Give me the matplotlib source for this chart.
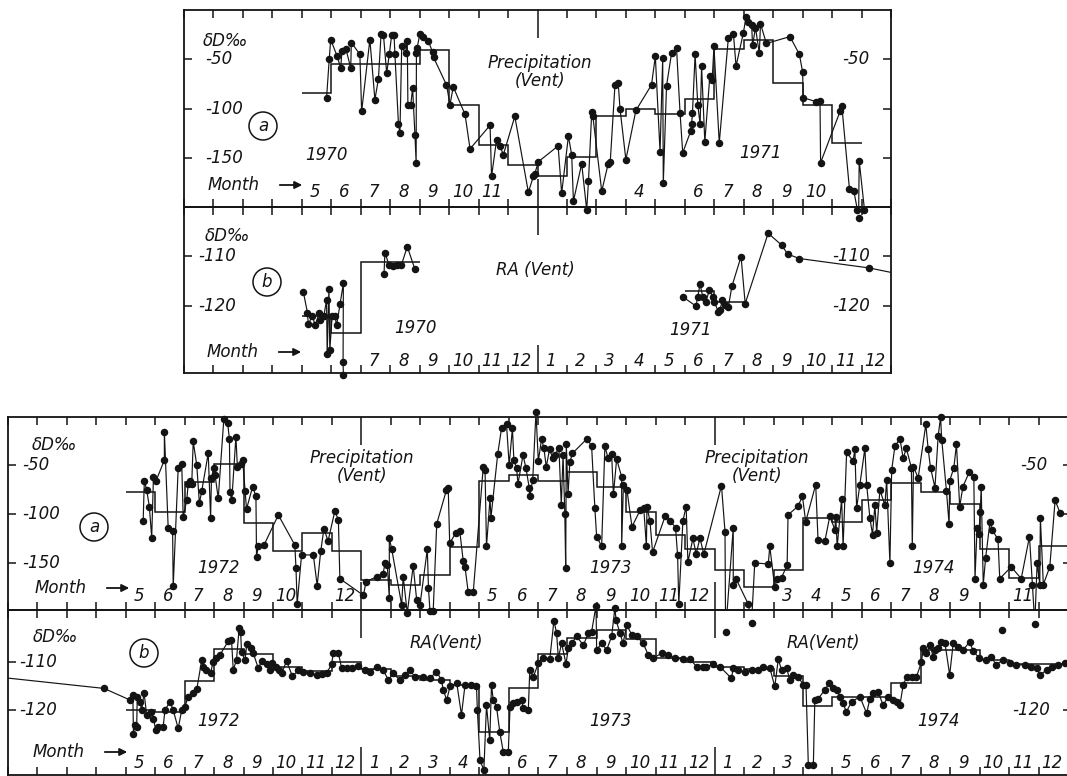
import matplotlib
matplotlib.use("Agg")
import matplotlib.pyplot as plt
import numpy as np

W, H = 1067, 776
plt.rcParams['font.family'] = ['DejaVu Sans']
plt.rcParams['font.style'] = 'italic'

# time axis: months since Jan of first year (top: 1970, bottom: 1972)

# --- precipitation at Vent 1970-71, single samples (month, dD permil)
prec_7071 = [
    (4.84, -89), (4.93, -50), (4.98, -30), (5.20, -47), (5.32, -59), (5.36, -42),
    (5.50, -40), (5.66, -59), (5.68, -33), (5.97, -45), (6.03, -103), (6.31, -30),
    (6.48, -91), (6.60, -70), (6.69, -24), (6.77, -25), (6.88, -64), (6.97, -45),
    (7.05, -25), (7.13, -25), (7.16, -45), (7.28, -116), (7.33, -125), (7.39, -37),
    (7.52, -44), (7.58, -31), (7.60, -96), (7.70, -96), (7.76, -79), (7.84, -127),
    (7.88, -155), (7.89, -44), (7.91, -39), (8.01, -24), (8.10, -27), (8.29, -31),
    (8.44, -43), (8.47, -48), (8.91, -76), (9.03, -96), (9.14, -78), (9.54, -106),
    (9.71, -141), (10.39, -117), (10.44, -169), (10.61, -132), (10.73, -138),
    (10.84, -147), (11.23, -108), (11.69, -185), (11.86, -169), (11.91, -166),
    (12.03, -154), (12.70, -138), (12.82, -186), (13.05, -128), (13.16, -147),
    (13.22, -194), (13.50, -156), (13.67, -203), (13.73, -174), (13.84, -104),
    (13.88, -108), (14.18, -184), (14.40, -156), (14.47, -154), (14.63, -76),
    (14.74, -74), (14.80, -100), (15.00, -152), (15.34, -102), (15.87, -76),
    (16.00, -47), (16.16, -144), (16.25, -49), (16.27, -176), (16.38, -77),
    (16.55, -44), (16.72, -39), (16.84, -105), (16.93, -145), (17.20, -123),
    (17.23, -116), (17.26, -105), (17.35, -45), (17.44, -96), (17.52, -116),
    (17.57, -57), (17.68, -134), (17.85, -67), (17.93, -71), (17.99, -37),
    (18.17, -135), (18.48, -28), (18.65, -24), (18.74, -57), (18.99, -23),
    (19.08, -7), (19.15, -12), (19.27, -15), (19.30, -36), (19.40, -18),
    (19.53, -44), (19.57, -14), (19.77, -34), (20.57, -27), (20.89, -45),
    (21.00, -63), (21.02, -89), (21.45, -93), (21.59, -92), (21.61, -155),
    (22.27, -103), (22.33, -97), (22.59, -182), (22.74, -184), (22.86, -203),
    (22.90, -211), (22.92, -153), (23.10, -203),
]
prec_7071_mean = [-84, -55, -55, -55, -41, -96, -137.5, -157, -169, -149, -108,
                  -100, -106, -90, -40, -30, -74, -96, -135]   # May 70 .. Nov 71

# --- river water (RA) at Vent 1970-71
ra_7071 = [
    (4.05, -117.2), (4.19, -121.4), (4.22, -123.8), (4.36, -122), (4.45, -124),
    (4.59, -121.5), (4.62, -123), (4.75, -122), (4.84, -118.9), (4.86, -129.7),
    (4.92, -116.7), (4.95, -129), (5.03, -122), (5.12, -122), (5.18, -124),
    (5.30, -119.6), (5.41, -115.5), (5.40, -131.4), (5.41, -134),
    (np.nan, np.nan),
    (6.79, -113.6), (6.82, -109.3), (6.96, -111.8), (7.10, -112), (7.22, -111.8),
    (7.38, -111.8), (7.58, -108.1), (7.84, -112.7),
    (np.nan, np.nan),
    (16.95, -118.3), (17.38, -120.1), (17.44, -118.2), (17.52, -115.6),
    (17.61, -118.3), (17.72, -119.2), (17.83, -116.9), (17.95, -118.2),
    (18.00, -119.2), (18.14, -121.3), (18.19, -120.9), (18.28, -118.9),
    (18.36, -119.9), (18.48, -120.2), (18.60, -116.1), (18.91, -110.1),
    (19.05, -119.6), (19.83, -105.4), (20.29, -107.8), (20.49, -109.6),
    (20.89, -110.5), (23.26, -112.4),
]
ra_7071_tail = [(23.26, -112.4), (24.0, -113.3)]
ra_70_mean = [-122, -125.6, -111.3, -111.3]     # May .. Aug 1970
ra_71_mean = [-117, -119.2]                      # Jun .. Jul 1971

# --- precipitation at Vent 1972-74
prec_7274 = [
    (4.59, -107), (4.63, -66), (4.71, -75.5), (4.80, -92.5), (4.88, -124),
    (4.94, -62), (5.03, -66), (5.31, -45), (5.31, -16), (5.44, -114), (5.59, -117),
    (5.61, -174), (5.78, -53), (5.90, -49), (5.95, -103), (6.07, -86), (6.12, -69),
    (6.18, -66), (6.24, -69), (6.29, -26), (6.41, -50), (6.50, -89), (6.58, -76.5),
    (6.80, -38), (6.88, -104), (6.91, -63), (6.99, -53), (7.03, -60), (7.14, -84),
    (7.33, -3), (7.46, -7.5), (7.52, -23.5), (7.54, -78), (7.60, -86), (7.74, -21),
    (7.79, -52), (7.90, -49), (7.97, -45), (8.05, -76.5), (8.10, -95), (8.31, -72),
    (8.42, -82), (8.44, -143.5), (8.50, -133), (8.69, -132), (9.18, -101),
    (9.74, -131.6), (9.78, -155), (9.82, -192), (9.97, -141.5), (10.37, -142),
    (10.50, -173), (10.62, -138), (10.73, -115), (10.87, -127.5), (11.10, -97),
    (11.22, -106), (11.27, -166), (12.07, -183), (12.16, -169), (12.52, -164),
    (12.74, -161), (12.80, -150.5), (12.88, -152), (12.95, -186), (12.95, -125),
    (13.03, -135.6), (13.37, -193), (13.42, -164), (13.56, -201), (13.76, -153),
    (13.88, -188), (13.99, -193), (14.24, -136), (14.28, -176), (14.33, -199),
    (14.44, -199), (14.56, -110), (14.89, -75.5), (14.95, -73), (15.00, -130),
    (15.21, -119), (15.34, -117), (15.46, -148), (15.52, -154), (15.63, -180),
    (15.80, -180), (16.14, -52), (16.20, -55), (16.25, -133), (16.37, -84),
    (16.40, -104), (16.63, -39), (16.76, -12.6), (16.93, -8.5), (17.02, -50),
    (17.13, -12.6), (17.18, -45), (17.27, -53), (17.32, -69), (17.49, -40),
    (17.59, -53), (17.70, -73), (17.72, -82), (17.82, -65), (17.93, 4),
    (18.01, -46), (18.12, -23.5), (18.20, -33), (18.28, -52), (18.39, -34),
    (18.50, -43), (18.56, -40), (18.71, -33), (18.79, -91), (18.85, -40),
    (18.91, -100), (18.94, -155), (18.96, -29), (19.02, -80), (19.08, -47),
    (19.17, -38), (19.67, -23), (19.82, -31), (19.93, -94), (19.99, -123),
    (20.16, -133), (20.27, -31), (20.38, -43), (20.50, -39), (20.56, -80),
    (20.67, -44), (20.84, -62), (20.84, -133), (20.90, -70), (21.02, -75.5),
    (21.19, -113), (21.47, -96), (21.59, -94), (21.68, -133), (21.70, -92.5),
    (21.80, -107), (21.89, -139), (22.32, -102), (22.49, -107), (22.67, -114),
    (22.74, -142), (22.78, -192), (22.92, -107), (23.03, -92.5), (23.09, -149),
    (23.26, -125), (23.37, -140.5), (23.50, -124.6), (23.63, -141),
    (24.23, -71), (24.35, -118), (24.37, -220), (24.63, -114), (24.63, -172),
    (24.72, -166), (25.14, -192), (25.25, -211), (25.36, -150), (25.82, -151),
    (25.87, -133), (26.04, -175), (26.12, -166), (26.27, -165), (26.46, -152),
    (26.49, -101), (26.83, -92), (26.98, -82), (27.09, -108), (27.43, -70),
    (27.51, -127), (27.74, -128), (27.91, -102), (28.08, -116), (28.11, -103),
    (28.16, -133), (28.31, -85), (28.36, -133), (28.48, -37), (28.70, -46),
    (28.76, -34), (28.82, -94), (28.93, -70), (29.10, -33), (29.16, -70),
    (29.27, -104), (29.36, -121), (29.44, -91), (29.50, -119), (29.61, -75.5),
    (29.78, -91), (29.84, -65), (29.95, -150.5), (30.01, -55), (30.12, -31),
    (30.29, -23), (30.40, -43), (30.51, -33), (30.68, -53), (30.71, -133),
    (30.75, -52), (30.91, -63), (31.17, -8.5), (31.25, -34), (31.33, -53),
    (31.48, -73), (31.59, -20), (31.67, -1.5), (31.71, -24), (31.87, -76.5),
    (31.96, -110.5), (31.98, -66), (32.12, -53), (32.21, -29), (32.32, -92.5),
    (32.43, -72), (32.65, -57), (32.80, -62), (32.84, -166), (32.91, -114),
    (32.97, -120), (33.02, -98), (33.05, -72), (33.12, -172), (33.20, -145),
    (33.35, -108), (33.42, -116), (33.62, -126), (33.68, -166), (34.07, -154),
    (34.41, -166), (34.69, -123), (34.79, -172), (34.87, -212), (34.95, -150),
    (35.04, -172), (35.06, -104), (35.16, -172), (35.38, -154), (35.56, -86),
    (35.73, -99),
]
prec_7274_mean = [-77.2, -97.6, -67.7, -49.3, -109.5, -137.8, -119.7, -137.8,
                  -167.3, -172.4, -162, -133.3, -66.3, -60.2, -66.3, -56.8,
                  -72.1, -97.6, -121.4, -135.7,
                  -157, -174.2, -157, -104.4, -107.8, -85.7, -68.7, -77.9,
                  -90.1, -135.7, -165.6, -132.3]              # May 72 .. Dec 74

# --- river water (RA) at Vent 1972-74
ra_7274 = [
    (-1.0, -112.7), (3.26, -115.5), (4.14, -117.9), (4.24, -116.9), (4.26, -124.9),
    (4.31, -123.1), (4.37, -123.5), (4.39, -117.2), (4.48, -118.3), (4.54, -120),
    (4.62, -116.4), (4.71, -121), (4.85, -120.4), (4.94, -121.8), (5.02, -124.2),
    (5.10, -123.5), (5.27, -123.5), (5.33, -120), (5.50, -118.3), (5.61, -120),
    (5.78, -123.8), (5.90, -120), (6.01, -119.3), (6.12, -117.2), (6.29, -116.5),
    (6.41, -115.7), (6.58, -109.6), (6.63, -111), (6.74, -111.7), (6.88, -112.2),
    (6.97, -110), (7.06, -109.2), (7.20, -108.5), (7.48, -105.7), (7.59, -105.4),
    (7.65, -111.7), (7.76, -109.5), (7.85, -103), (7.90, -103.7), (7.93, -107.9),
    (8.05, -109.6), (8.11, -106.2), (8.24, -107.2), (8.33, -108.2), (8.50, -111.3),
    (8.61, -109.9), (8.78, -110.4), (8.90, -111.7), (8.95, -110.3), (9.10, -111),
    (9.21, -111.7), (9.29, -112.4), (9.46, -109.8), (9.66, -113), (9.86, -111.7),
    (10.03, -112.1), (10.25, -112.4), (10.48, -112.8), (10.65, -112.6),
    (10.82, -112.4), (10.99, -110.4), (11.05, -108.1), (11.22, -108.1),
    (11.33, -111.3), (11.50, -111.3), (11.67, -111.3), (11.90, -110.9),
    (12.12, -111.7), (12.29, -112), (12.52, -111), (12.74, -111.7), (12.92, -113.75),
    (13.08, -112.4), (13.31, -113.75), (13.48, -112.7), (13.65, -111.7),
    (13.82, -113.1), (14.10, -113.1), (14.33, -113.4), (14.55, -112),
    (14.72, -113.75), (14.78, -115.8), (14.90, -117.9), (15.01, -115.1),
    (15.24, -114.4), (15.40, -121), (15.52, -114.8), (15.74, -114.8), (15.91, -115),
    (15.94, -120), (16.03, -130.4), (16.16, -132.5), (16.25, -119), (16.36, -126.3),
    (16.42, -114.8), (16.48, -117.9), (16.59, -119.3), (16.70, -124.5),
    (16.82, -128.7), (16.99, -128.7), (17.05, -119.3), (17.16, -118.6),
    (17.27, -118.3), (17.44, -117.9), (17.50, -119.65), (17.67, -120),
    (17.72, -111.7), (17.84, -113.1), (18.01, -110.3), (18.18, -109.2),
    (18.40, -109.4), (18.54, -101.4), (18.63, -104), (18.69, -109.2),
    (18.80, -106.1), (18.95, -110.4), (19.03, -107.15), (19.14, -106.1),
    (19.31, -104.7), (19.54, -106.5), (19.71, -104), (19.82, -103.7),
    (19.97, -98.3), (19.99, -107.5), (20.16, -106.1), (20.33, -107.5),
    (20.50, -104.7), (20.61, -98.8), (20.65, -101.25), (20.78, -104),
    (20.89, -106.1), (21.01, -102.3), (21.18, -104.3), (21.35, -104.7),
    (21.57, -106.1), (21.74, -108.5), (21.91, -109.2), (22.20, -108.2),
    (22.42, -108.5), (22.65, -109.2), (22.93, -109.4), (23.16, -109.4),
    (23.39, -111), (23.61, -111), (23.72, -111), (23.95, -110.5), (24.18, -111),
    (24.57, -113.4), (24.63, -111.2), (24.80, -111.7), (25.03, -112),
    (25.25, -111.7), (25.48, -111.7), (25.65, -111), (25.87, -111.2),
    (26.04, -115.1), (26.16, -109.4), (26.27, -111.7), (26.44, -111.2),
    (26.55, -113.75), (26.67, -112.7), (26.84, -113.1), (27.01, -114.8),
    (27.10, -114.8), (27.18, -131.5), (27.35, -131.5), (27.40, -117.9),
    (27.52, -117.6), (27.74, -115.8), (27.89, -114.4), (28.03, -115.5),
    (28.14, -115.8), (28.25, -117.2), (28.36, -118.6), (28.47, -120.35),
    (28.65, -118.3), (28.93, -117.2), (29.16, -120.7), (29.27, -117.6),
    (29.38, -116.5), (29.55, -116.2), (29.72, -119), (29.89, -117.2),
    (30.06, -117.9), (30.18, -118.3), (30.29, -119), (30.40, -114.8),
    (30.52, -113.1), (30.69, -113.1), (30.85, -113.1), (31.02, -110.1),
    (31.08, -107.15), (31.19, -108.2), (31.31, -106.5), (31.42, -108.9),
    (31.48, -107.5), (31.59, -107.15), (31.70, -105.8), (31.82, -106.1),
    (31.98, -112.7), (32.10, -106.1), (32.27, -106.8), (32.44, -107.5),
    (32.66, -105.8), (32.78, -107.8), (32.99, -109.2), (33.22, -109.6),
    (33.40, -108.9), (33.55, -110.6), (33.80, -109.6), (34.02, -110.3),
    (34.24, -110.6), (34.53, -110.6), (34.75, -111), (34.93, -111.2),
    (35.04, -112.7), (35.27, -111.7), (35.44, -111), (35.67, -110.6),
    (35.89, -110.3),
]
ra_7274_single = [(33.74, -103.3)]
ra_7274_mean = [-120, -120.3, -114, -107.4, -108.4, -111, -111.8, -110,
                -111.5, -113, -113.8, -114.8, -124.5, -115.5, -108.3, -105.1,
                -103.4, -105.3, -109.2, -110,
                -111, -111.5, -113, -119.2, -117.3, -117.3, -114.3, -107.6,
                -107.6, -109.5, -110.5, -110.5]               # May 72 .. Dec 74

# month labels shown under each panel: (year offset in months, months)
lab_top_a = [(0, [5, 6, 7, 8, 9, 10, 11]), (12, [4, 6, 7, 8, 9, 10])]
lab_top_b = [(0, [7, 8, 9, 10, 11, 12]), (12, list(range(1, 13)))]
lab_bot_a = [(0, [5, 6, 7, 8, 9, 10, 12]), (12, [5, 6, 7, 8, 9, 10, 11, 12]),
             (24, [3, 4, 5, 6, 7, 8, 9, 11])]
lab_bot_b = [(0, [5, 6, 7, 8, 9, 10, 11, 12]), (12, [1, 2, 3, 4, 6, 7, 8, 9, 10, 11, 12]),
             (24, [1, 2, 3, 5, 6, 7, 8, 9, 10, 11, 12])]

K = '#141414'
FS = 12


def panel(fig, x0, y0, x1, y1, xlim, ylim, nmonths, years, yticks):
    ax = fig.add_axes([x0 / W, 1 - y1 / H, (x1 - x0) / W, (y1 - y0) / H])
    ax.set_xlim(*xlim)
    ax.set_ylim(*ylim)
    ax.patch.set_alpha(0)
    for s in ax.spines.values():
        s.set_linewidth(1.3)
        s.set_color(K)
    ax.set_xticks(np.arange(0, nmonths + 1), minor=True)
    ax.set_xticks(years)
    ax.tick_params(axis='x', which='minor', direction='in', length=6, width=1.1,
                   top=True, bottom=True, labelbottom=False, color=K)
    ax.tick_params(axis='x', which='major', direction='in', length=20, width=1.1,
                   top=True, bottom=True, labelbottom=False, color=K)
    ax.set_yticks(yticks)
    ax.tick_params(axis='y', direction='in', length=6, width=1.1, left=True,
                   right=True, labelleft=False, color=K)
    return ax


def month_labels(ax, groups, y=0.075):
    tr = ax.get_xaxis_transform()
    for off, months in groups:
        for m in months:
            ax.text(off + m - 0.55, y, str(m), transform=tr, ha='center',
                    va='center', fontsize=FS, color=K)


def series(ax, pts, ms=4.4):
    a = np.array(pts, dtype=float)
    ax.plot(a[:, 0], a[:, 1], '-', color=K, lw=0.85, clip_on=True)
    ax.plot(a[:, 0], a[:, 1], 'o', color=K, ms=ms, clip_on=False)


def ylabels(ax, vals, xl, xr=None, right_vals=()):
    tr = ax.get_yaxis_transform()
    for v in vals:
        ax.text(xl, v, '-%d' % -v, transform=tr, ha='left', va='center',
                fontsize=FS, color=K)
    for v in right_vals:
        ax.text(xr, v, '-%d' % -v, transform=tr, ha='right', va='center',
                fontsize=FS, color=K)


def ptext(fig, x, y, s, **kw):
    kw.setdefault('fontsize', FS)
    kw.setdefault('color', K)
    fig.text(x / W, 1 - y / H, s, **kw)


def month_arrow(fig, x, y):
    ptext(fig, x, y, 'Month', ha='left', va='center')
    fig.add_artist(matplotlib.patches.FancyArrowPatch(
        ((x + 69) / W, 1 - y / H), ((x + 97) / W, 1 - y / H),
        transform=fig.transFigure, arrowstyle='-|>', mutation_scale=11,
        lw=1.3, color=K))


def circled(fig, x, y, s):
    ptext(fig, x, y, s, ha='center', va='center',
          bbox=dict(boxstyle='circle,pad=0.3', fc='none', ec=K, lw=1.1))


fig = plt.figure(figsize=(W / 100, H / 100), dpi=100)

# ---------------- 1970-71 ----------------
ta = panel(fig, 184, 10, 891, 207, (0, 24), (-200, 0), 24, [12], [-50, -100, -150])
tb = panel(fig, 184, 207, 891, 373, (0, 24), (-133.6, -100.1), 24, [12], [-110, -120])

ta.stairs(prec_7071_mean, np.arange(4, 24), color=K, lw=1.1, baseline=None)
series(ta, prec_7071)
tb.stairs(ra_70_mean, np.arange(4, 9), color=K, lw=1.1, baseline=None)
tb.stairs(ra_71_mean, np.arange(17, 20), color=K, lw=1.1, baseline=None)
series(tb, ra_7071)
tail = np.array(ra_7071_tail)
tb.plot(tail[:, 0], tail[:, 1], '-', color=K, lw=0.85)

ylabels(ta, [-50, -100, -150], 0.03, 0.97, [-50])
ylabels(tb, [-110, -120], 0.02, 0.97, [-110, -120])
month_labels(ta, lab_top_a)
month_labels(tb, lab_top_b)

ptext(fig, 203, 41, 'δD‰', ha='left', va='center')
ptext(fig, 205, 236, 'δD‰', ha='left', va='center')
circled(fig, 263, 126, 'a')
circled(fig, 267, 282, 'b')
ptext(fig, 326, 155, '1970', ha='center', va='center')
ptext(fig, 760, 153, '1971', ha='center', va='center')
ptext(fig, 415, 328, '1970', ha='center', va='center')
ptext(fig, 690, 330, '1971', ha='center', va='center')
ptext(fig, 540, 72, 'Precipitation\n(Vent)', ha='center', va='center',
      linespacing=1.0)
ptext(fig, 535, 270, 'RA (Vent)', ha='center', va='center')
month_arrow(fig, 208, 185)
month_arrow(fig, 207, 352)

# ---------------- 1972-74 ----------------
ba = panel(fig, 8, 417, 1071, 610, (0, 36.1), (-198, -1), 36, [12, 24],
           [-50, -100, -150])
bb = panel(fig, 8, 610, 1071, 775, (0, 36.1), (-133.5, -99.2), 36, [12, 24],
           [-110, -120])

ba.stairs(prec_7274_mean, np.arange(4, 37), color=K, lw=1.1, baseline=None)
series(ba, prec_7274)
bb.stairs(ra_7274_mean, np.arange(4, 37), color=K, lw=1.1, baseline=None)
a = np.array(ra_7274)
bb.plot(a[:, 0], a[:, 1], '-', color=K, lw=0.85)
bb.plot(a[1:, 0], a[1:, 1], 'o', color=K, ms=4.4, clip_on=False)
s1 = np.array(ra_7274_single)
bb.plot(s1[:, 0], s1[:, 1], 'o', color=K, ms=4.4)

ylabels(ba, [-50, -100, -150], 0.013, 0.978, [-50])
ylabels(bb, [-110, -120], 0.011, 0.98, [-120])
month_labels(ba, lab_bot_a)
month_labels(bb, lab_bot_b)

ptext(fig, 32, 445, 'δD‰', ha='left', va='center')
ptext(fig, 33, 637, 'δD‰', ha='left', va='center')
circled(fig, 94, 527, 'a')
circled(fig, 144, 653, 'b')
for x, yr in [(218, '1972'), (610, '1973'), (933, '1974')]:
    ptext(fig, x, 568, yr, ha='center', va='center')
for x, yr in [(218, '1972'), (610, '1973'), (938, '1974')]:
    ptext(fig, x, 721, yr, ha='center', va='center')
for x in (362, 757):
    ptext(fig, x, 467, 'Precipitation\n(Vent)', ha='center', va='center',
          linespacing=1.0)
for x in (446, 823):
    ptext(fig, x, 643, 'RA(Vent)', ha='center', va='center')
month_arrow(fig, 35, 588)
month_arrow(fig, 33, 752)

fig.savefig('out.png', dpi=100, facecolor='white')
